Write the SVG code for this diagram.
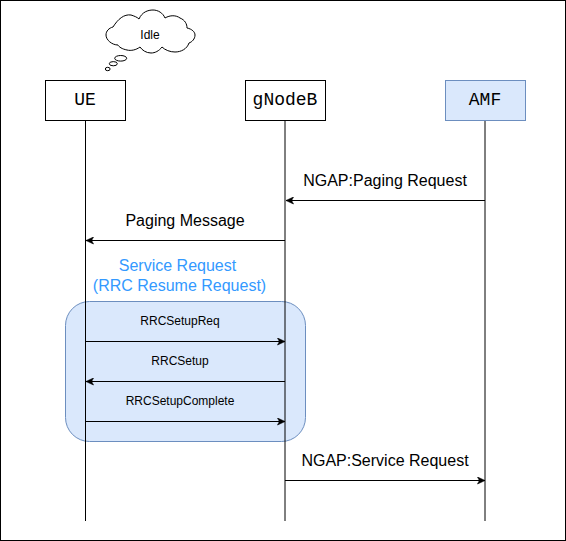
<svg xmlns="http://www.w3.org/2000/svg" width="566" height="541" viewBox="0 0 566 541">
<defs>
<marker id="ah" markerUnits="userSpaceOnUse" markerWidth="9" markerHeight="8" refX="8" refY="4" orient="auto-start-reverse"><path d="M0.5 0.5L8 4L0.5 7.5L2.4 4Z" fill="#000" stroke="#000" stroke-width="0.6"/></marker>
</defs>
<style>
.n{fill:#fff;stroke:#000;stroke-width:1}
.b{fill:#dae8fc;stroke:#6c8ebf;stroke-width:1}
.life{stroke:#000;stroke-width:1;fill:none}
.msg{stroke:#000;stroke-width:1;fill:none;marker-end:url(#ah)}
text{font-family:"Liberation Sans",Arial,sans-serif;text-anchor:middle;fill:#000}
.m{font-family:"Liberation Mono","Courier New",monospace;font-size:18px}
.l{font-size:16px}
.s{font-size:12px}
.c{font-size:16px;fill:#3399ff}
</style>
<rect id="frame" x="0.5" y="0.5" width="565" height="540" fill="#fff" stroke="#000"/>
<g id="region"><rect x="65.5" y="301.5" width="240" height="140" rx="24" ry="24" class="b"/></g>
<g id="connectors">
<path class="life" d="M85.5 120V521"/>
<path class="life" d="M285 120V521"/>
<path class="life" d="M485 120V521"/>
<path class="msg" d="M485 200.5H286"/>
<path class="msg" d="M285 240.5H86"/>
<path class="msg" d="M85.5 341.5H285"/>
<path class="msg" d="M285 381.5H86"/>
<path class="msg" d="M85.5 421.5H285"/>
<path class="msg" d="M285 480.5H485"/>
</g>
<g id="ue"><rect x="45.5" y="80.5" width="80" height="40" class="n"/><text x="85" y="105" class="m">UE</text></g>
<g id="gnodeb"><rect x="245.500" y="80.500" width="80" height="40" class="n"/><text x="285" y="105" class="m">gNodeB</text></g>
<g id="amf"><rect x="445.500" y="80.500" width="80" height="40" class="b"/><text x="485" y="105" class="m">AMF</text></g>
<g id="idle">
<path d="M113 27C118 19 124 14 131 15C134 16 137 17 139 19C142 12 148 10 153 10C158 10 163 13 165 18C170 15 176 15 180 18C185 20 187 24 187 28C192 29 195 32 195 35C195 39 192 42 189 43C187 49 181 52 175 52C170 52 165 50 162 47C159 51 155 53 151 53C146 53 142 50 140 47C136 50 131 51 127 50C122 49 119 47 118 45C112 45 106 40 106 35C106 31 109 28 113 27Z" fill="#fff" stroke="#000"/>
<ellipse cx="120.700" cy="58.300" rx="6" ry="2.800" fill="#fff" stroke="#000"/>
<ellipse cx="113.300" cy="63.700" rx="4" ry="2.100" fill="#fff" stroke="#000"/>
<ellipse cx="107.700" cy="69" rx="2.400" ry="1.700" fill="#fff" stroke="#000"/>
<text x="150" y="38.500" class="s">Idle</text>
</g>
<g id="labels">
<text x="385" y="186" class="l">NGAP:Paging Request</text>
<text x="185" y="226" class="l">Paging Message</text>
<text x="177.500" y="271" class="c">Service Request</text>
<text x="179.500" y="291" class="c">(RRC Resume Request)</text>
<text x="180" y="325" class="s">RRCSetupReq</text>
<text x="180" y="365" class="s">RRCSetup</text>
<text x="180" y="405" class="s">RRCSetupComplete</text>
<text x="385" y="466" class="l">NGAP:Service Request</text>
</g>
</svg>
